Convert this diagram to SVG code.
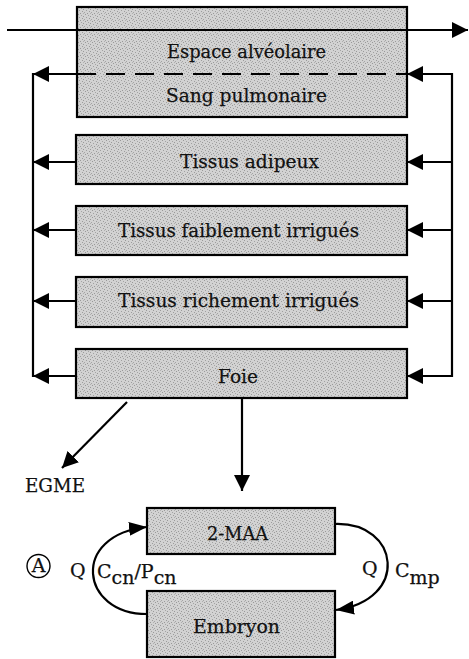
<svg xmlns="http://www.w3.org/2000/svg" width="469" height="659" viewBox="0 0 469 659">
<style>
.box{fill:url(#stip);stroke:#000;stroke-width:2.2}
.ln{fill:none;stroke:#000;stroke-width:2.2}
.dash{fill:none;stroke:#000;stroke-width:2.2;stroke-dasharray:19 10}
.t{font-family:"DejaVu Serif","Liberation Serif",serif;font-size:19px;fill:#111;stroke:#111;stroke-width:0.25}
</style>
<defs>
<pattern id="stip" width="7" height="7" patternUnits="userSpaceOnUse">
<rect width="7" height="7" fill="#d2d2d2"/>
<rect x="1" y="0" width="1" height="1" fill="#999"/>
<rect x="4" y="1" width="1" height="1" fill="#a4a4a4"/>
<rect x="6" y="2" width="1" height="1" fill="#999"/>
<rect x="2" y="3" width="1" height="1" fill="#a0a0a0"/>
<rect x="5" y="4" width="1" height="1" fill="#9c9c9c"/>
<rect x="0" y="5" width="1" height="1" fill="#a4a4a4"/>
<rect x="3" y="6" width="1" height="1" fill="#999"/>
<rect x="6" y="6" width="1" height="1" fill="#b0b0b0"/>
</pattern>
<marker id="ah" viewBox="0 0 16 16" refX="16" refY="8" markerWidth="16" markerHeight="16" markerUnits="userSpaceOnUse" orient="auto">
<path d="M0,0 L16,8 L0,16 z" fill="#000"/>
</marker>
<marker id="ah2" viewBox="0 0 18 14" refX="18" refY="7" markerWidth="18" markerHeight="14" markerUnits="userSpaceOnUse" orient="auto">
<path d="M0,0 L18,7 L0,14 z" fill="#000"/>
</marker>
</defs>
<rect width="469" height="659" fill="#fff"/>

<g id="poumon">
<rect class="box" x="77" y="7" width="330" height="110"/>
<text class="t" x="167" y="58" textLength="159" lengthAdjust="spacingAndGlyphs">Espace alvéolaire</text>
<text class="t" x="166" y="102" textLength="161" lengthAdjust="spacingAndGlyphs">Sang pulmonaire</text>
</g>
<g id="adipeux">
<rect class="box" x="76" y="135" width="331" height="49"/>
<text class="t" x="180" y="168" textLength="139" lengthAdjust="spacingAndGlyphs">Tissus adipeux</text>
</g>
<g id="faiblement">
<rect class="box" x="76" y="206" width="331" height="49"/>
<text class="t" x="118" y="237" textLength="241" lengthAdjust="spacingAndGlyphs">Tissus faiblement irrigués</text>
</g>
<g id="richement">
<rect class="box" x="76" y="277" width="331" height="50"/>
<text class="t" x="118" y="307" textLength="241" lengthAdjust="spacingAndGlyphs">Tissus richement irrigués</text>
</g>
<g id="foie">
<rect class="box" x="76" y="349" width="331" height="49"/>
<text class="t" x="218" y="383" textLength="40" lengthAdjust="spacingAndGlyphs">Foie</text>
</g>
<g id="egme">
<text class="t" x="25" y="492" textLength="60" lengthAdjust="spacingAndGlyphs">EGME</text>
</g>
<g id="maa">
<rect class="box" x="147" y="508" width="188" height="46"/>
<text class="t" x="207" y="540" textLength="61" lengthAdjust="spacingAndGlyphs">2-MAA</text>
</g>
<g id="embryon">
<rect class="box" x="147" y="591" width="188" height="66"/>
<text class="t" x="193" y="633" textLength="87" lengthAdjust="spacingAndGlyphs">Embryon</text>
</g>

<g id="connectors">
<path class="ln" d="M7,30 H468" marker-end="url(#ah)"/>
<path class="dash" d="M77,74 H407"/>
<path class="ln" d="M33,74 V376" stroke-linecap="square"/>
<path class="ln" d="M452,74 V376" stroke-linecap="square"/>
<path class="ln" d="M77,74 H33" marker-end="url(#ah)"/>
<path class="ln" d="M76,162 H33" marker-end="url(#ah)"/>
<path class="ln" d="M76,230 H33" marker-end="url(#ah)"/>
<path class="ln" d="M76,301 H33" marker-end="url(#ah)"/>
<path class="ln" d="M76,376 H33" marker-end="url(#ah)"/>
<path class="ln" d="M452,74 H407" marker-end="url(#ah)"/>
<path class="ln" d="M452,162 H407" marker-end="url(#ah)"/>
<path class="ln" d="M452,230 H407" marker-end="url(#ah)"/>
<path class="ln" d="M452,301 H407" marker-end="url(#ah)"/>
<path class="ln" d="M452,376 H407" marker-end="url(#ah)"/>
<path class="ln" d="M242,398 V491" marker-end="url(#ah)"/>
<path class="ln" d="M127,402 L62,468" marker-end="url(#ah)"/>
<path class="ln" d="M147,614 C80,614 70,535 147,527" marker-end="url(#ah2)"/>
<path class="ln" d="M335,524 C400,522 410,600 336,610" marker-end="url(#ah2)"/>
</g>

<g id="labels">
<circle cx="38.5" cy="566" r="11.5" fill="none" stroke="#000" stroke-width="1.4"/>
<text class="t" x="38.5" y="572" font-size="17" text-anchor="middle">A</text>
<text class="t" x="70" y="577">Q</text>
<text class="t" x="97" y="578">C<tspan dy="6">cn</tspan><tspan dy="-6">/P</tspan><tspan dy="6">cn</tspan></text>
<text class="t" x="362" y="575">Q</text>
<text class="t" x="395" y="577">C<tspan dy="7">mp</tspan></text>
</g>
</svg>
